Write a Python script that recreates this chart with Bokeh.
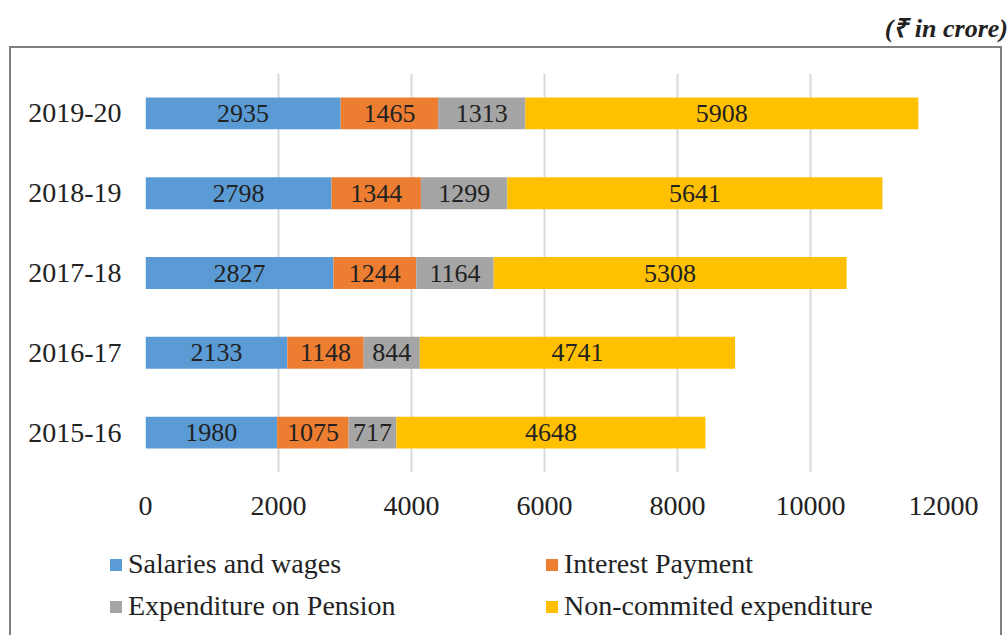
import numpy as np
from bokeh.plotting import figure
from bokeh.layouts import column
from bokeh.models import (Range1d, FactorRange, Legend, LegendItem, Div,
                          ColumnDataSource, FixedTicker)
from bokeh.core.properties import value
from bokeh.embed import file_html
from bokeh.resources import INLINE

years = ["2015-16", "2016-17", "2017-18", "2018-19", "2019-20"]
salaries = [1980, 2133, 2827, 2798, 2935]
interest = [1075, 1148, 1244, 1344, 1465]
pension = [717, 844, 1164, 1299, 1313]
noncommitted = [4648, 4741, 5308, 5641, 5908]
series_names = ["Salaries and wages", "Interest Payment",
                "Expenditure on Pension", "Non-commited expenditure"]
x_ticks = [0, 2000, 4000, 6000, 8000, 10000, 12000]
unit_note = "(\u20b9 in crore)"

colors = ["#5B9BD5", "#ED7D31", "#A5A5A5", "#FFC000"]
keys = ["sal", "int", "pen", "non"]
TXT = "#222222"
FONT = "Liberation Serif"
BORDER = "2.5px solid #7f7f7f"

data = dict(year=years, sal=salaries, int=interest, pen=pension, non=noncommitted)
src = ColumnDataSource(data)

p = figure(width=993, height=483, output_backend="svg", toolbar_location=None,
           y_range=FactorRange(*years), x_range=Range1d(0, 12000),
           min_border_left=134, min_border_right=61, min_border_top=25,
           min_border_bottom=59,
           styles={"border-top": BORDER, "border-left": BORDER,
                   "border-right": BORDER, "margin-left": "9px"})
p.frame_align = False
p.outline_line_color = None
p.background_fill_color = "white"
p.border_fill_color = "white"

rs = p.hbar_stack(keys, y="year", height=0.4, color=colors, source=src,
                  line_color=None)

# data labels
vals = np.array([salaries, interest, pension, noncommitted], dtype=float)
cum = np.cumsum(vals, axis=0)
mids = cum - vals / 2.0
lx, ly, lt = [], [], []
for i in range(4):
    for j, yr in enumerate(years):
        lx.append(mids[i, j]); ly.append(yr); lt.append(str(int(vals[i, j])))
p.text(x=lx, y=ly, text=lt, text_align="center", text_baseline="middle",
       text_font=value(FONT), text_font_size="26px", text_color=TXT)

# axes
p.xaxis.ticker = FixedTicker(ticks=x_ticks)
for ax in (p.xaxis[0], p.yaxis[0]):
    ax.axis_line_color = None
    ax.major_tick_line_color = None
    ax.minor_tick_line_color = None
    ax.major_tick_out = 0
    ax.major_tick_in = 0
    ax.major_label_text_font = FONT
    ax.major_label_text_font_size = "28px"
    ax.major_label_text_color = TXT
p.xaxis.major_label_standoff = 24
p.yaxis.major_label_standoff = 24

p.xgrid.grid_line_color = "#d9d9d9"
p.xgrid.grid_line_width = 2
p.xgrid.ticker = FixedTicker(ticks=x_ticks)
p.ygrid.grid_line_color = None

# legend strip: legend keys taken from the same stacked series (drawn flat, off-range)
q = figure(width=993, height=106, output_backend="svg", toolbar_location=None,
           x_axis_type=None, y_axis_type=None,
           min_border_left=97, min_border_top=19, min_border_right=0,
           min_border_bottom=0,
           x_range=Range1d(-2, -1), y_range=FactorRange(*years),
           styles={"border-left": BORDER, "border-right": BORDER,
                   "margin-left": "9px"})
q.frame_align = False
q.outline_line_color = None
q.grid.grid_line_color = None
leg_rs = q.hbar_stack(keys, y="year", height=0, color=colors, source=src,
                      line_color=None)
items = [LegendItem(label=series_names[i], renderers=[leg_rs[i]]) for i in range(4)]
leg = Legend(items=items, ncols=2, location="top_left", orientation="horizontal",
             border_line_color=None, background_fill_alpha=0,
             label_text_font=FONT, label_text_font_size="28px",
             label_text_color=TXT, glyph_width=15, glyph_height=15,
             label_standoff=5, label_width=406, label_height=28,
             spacing=10, padding=0, margin=0)
q.add_layout(leg, "center")

note = Div(text=unit_note, width=1003, height=36,
           styles={"font-family": FONT, "font-size": "26px",
                   "font-weight": "bold", "font-style": "italic",
                   "text-align": "right", "color": TXT,
                   "line-height": "30px", "padding-top": "9px"})

layout = column(note, p, q, spacing=0)
open("out.html", "w").write(file_html(layout, INLINE))
